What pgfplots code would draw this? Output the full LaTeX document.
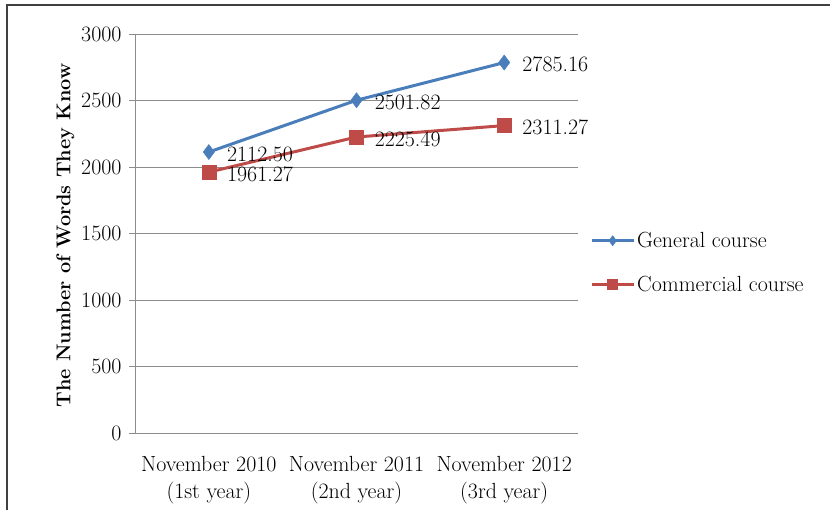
\documentclass[border=0pt]{standalone}
\usepackage{pgfplots}
\pgfplotsset{compat=1.18}
\definecolor{gblue}{HTML}{4A7EBB}
\definecolor{cred}{HTML}{BE4B48}
\definecolor{axgray}{HTML}{8C8C8C}
\begin{document}
\begin{tikzpicture}[x=1bp,y=1bp]
\path[use as bounding box] (0,0) rectangle (830,510);
\draw[line width=2bp, color=black!75] (7,-5) -- (7,505) -- (835,505);
\begin{axis}[
  at={(135bp,77bp)}, anchor=south west,
  scale only axis, width=443bp, height=399bp,
  xmin=0, xmax=3, ymin=0, ymax=3000,
  /pgf/number format/assume math mode=true,
  axis lines*=left,
  axis line style={axgray, line width=0.8bp},
  xtick={0.5,1.5,2.5},
  xticklabels={{November 2010\\(1st year)},{November 2011\\(2nd year)},{November 2012\\(3rd year)}},
  x tick label style={align=center, font=\fontsize{22}{27}\selectfont, yshift=-14bp},
  ytick={0,500,...,3000},
  yticklabel style={/pgf/number format/1000 sep={}},
  y tick label style={font=\fontsize{22}{26}\selectfont, xshift=-4bp},
  tick align=outside, major tick length=6bp,
  xtick style={draw=none},
  ytick style={axgray, line width=0.8bp},
  ymajorgrids, grid style={axgray, line width=0.8bp},
  ylabel={\bfseries The Number of Words They Know},
  ylabel style={font=\fontsize{20}{24}\selectfont, xshift=-2bp},
  nodes near coords,
  point meta=y,
  every node near coord/.append style={anchor=west, inner sep=0pt, xshift=18bp, yshift=-2bp, font=\fontsize{22}{26}\selectfont, text=black,
    /pgf/number format/.cd, fixed, fixed zerofill, precision=2, 1000 sep={}, assume math mode=true},
  legend style={draw=none, at={(1.027,0.427)}, anchor=west, font=\fontsize{22}{26}\selectfont, row sep=23bp, inner sep=0pt, cells={anchor=west}, nodes={inner sep=2bp}},
  legend image code/.code={\draw[mark repeat=2, mark phase=2, mark size=5bp] plot coordinates {(0bp,0bp) (21bp,0bp) (42bp,0bp)};},
  clip=false,
]
\addplot[color=gblue, line width=3bp, mark=diamond*, mark size=7.5bp, mark options={solid, fill=gblue, line width=0.5bp}]
  coordinates {(0.5,2112.50) (1.5,2501.82) (2.5,2785.16)};
\addlegendentry{General course}
\addplot[color=cred, line width=3bp, mark=square*, mark size=7bp, mark options={solid, fill=cred, line width=0.5bp}]
  coordinates {(0.5,1961.27) (1.5,2225.49) (2.5,2311.27)};
\addlegendentry{Commercial course}
\end{axis}
\end{tikzpicture}
\end{document}
